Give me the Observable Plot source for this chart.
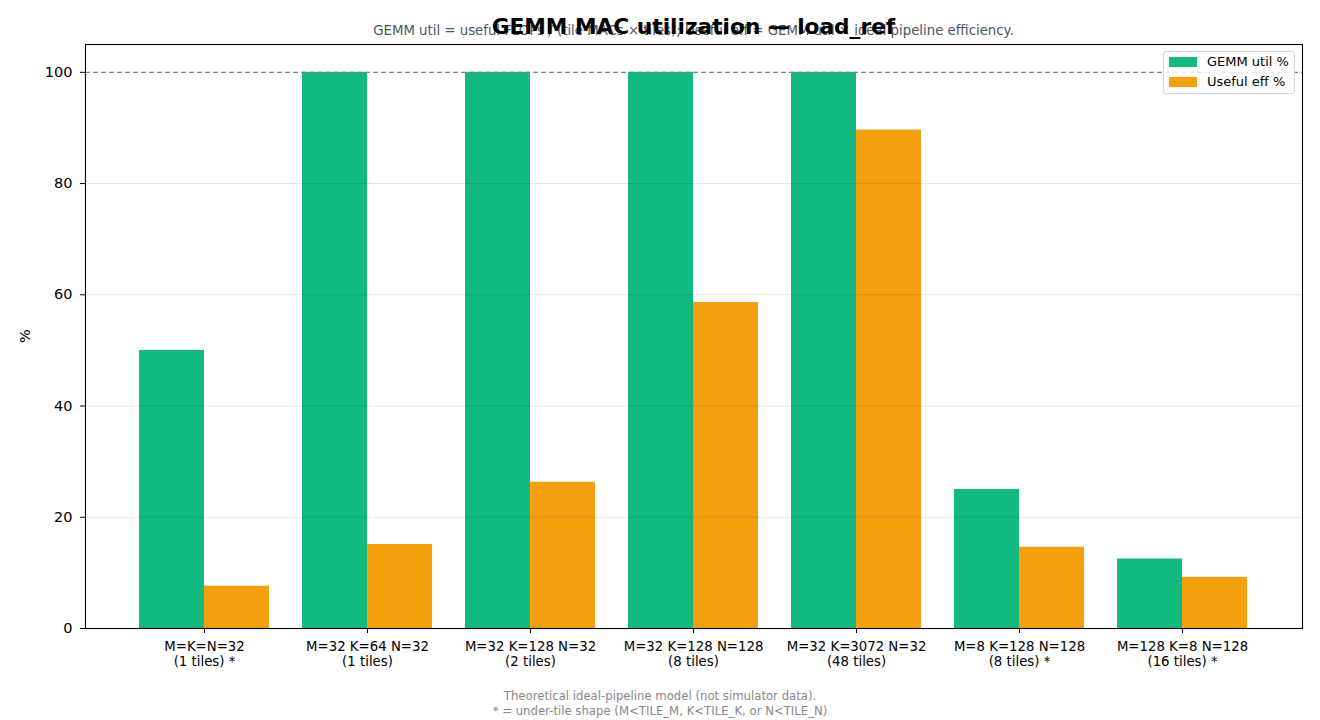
<!DOCTYPE html>
<html>
<head>
<meta charset="utf-8">
<script src="https://cdn.jsdelivr.net/npm/d3@7"></script>
<script src="https://cdn.jsdelivr.net/npm/@observablehq/plot@0.6"></script>
<style>
  html, body { margin: 0; padding: 0; background: #fff; }
  #fig { position: relative; width: 1320px; height: 720px; font-family: "DejaVu Sans", sans-serif; overflow: hidden; }
  #chart { position: absolute; left: 0; top: 0; }
  #subtitle { position: absolute; left: 85px; width: 1217px; top: 23px; text-align: center; font-size: 13.3px; line-height: 16px; color: #4a5568; white-space: nowrap; }
  #title { position: absolute; left: 85px; width: 1217px; top: 13px; line-height: 27px; text-align: center; font-size: 21.7px; font-weight: bold; color: #000; white-space: nowrap; }
  #legend { position: absolute; left: 1163px; top: 51px; width: 130px; height: 41px; border: 1px solid #d6d6d6; border-radius: 3px; background: rgba(255,255,255,0.85); font-size: 13px; color: #000; }
  .item { position: absolute; left: 5px; height: 14px; line-height: 14px; white-space: nowrap; }
  .sw { display: inline-block; width: 28px; height: 10px; vertical-align: -1px; margin-right: 10px; }
  #caption { position: absolute; left: 0; width: 1320px; top: 689px; text-align: center; font-size: 11.7px; line-height: 15px; color: #888; }
</style>
</head>
<body>
<div id="fig">
  <div id="chart"></div>
  <div id="subtitle"></div>
  <div id="title"></div>
  <div id="legend"></div>
  <div id="caption"></div>
</div>
<script>
// ---- data ----
const configs = [
  "M=K=N=32\n(1 tiles) *",
  "M=32 K=64 N=32\n(1 tiles)",
  "M=32 K=128 N=32\n(2 tiles)",
  "M=32 K=128 N=128\n(8 tiles)",
  "M=32 K=3072 N=32\n(48 tiles)",
  "M=8 K=128 N=128\n(8 tiles) *",
  "M=128 K=8 N=128\n(16 tiles) *"
];
const gemmUtil = [50, 100, 100, 100, 100, 25, 12.5];
const usefulEff = [7.6, 15.1, 26.3, 58.6, 89.6, 14.6, 9.2];
const seriesNames = ["GEMM util %", "Useful eff %"];
const seriesColors = ["#12b981", "#f39f0e"];
const yTicks = [0, 20, 40, 60, 80, 100];
const gridValues = [20, 40, 60, 80];
const refValue = [100];

const titleText = "GEMM MAC utilization \u2014 load_ref";
const subtitleText = "GEMM util = useful FLOPs / (tile MACs \u00d7 tiles); Useful eff = GEMM util \u00d7 ideal pipeline efficiency.";
const captionLines = [
  "Theoretical ideal-pipeline model (not simulator data).",
  "* = under-tile shape (M<TILE_M, K<TILE_K, or N<TILE_N)"
];

const gemmRows = configs.map((c, i) => ({config: c, series: seriesNames[0], value: gemmUtil[i]}));
const usefulRows = configs.map((c, i) => ({config: c, series: seriesNames[1], value: usefulEff[i]}));

const base = {
  width: 1320,
  height: 680,
  marginLeft: 85,
  marginRight: 18,
  marginTop: 44,
  marginBottom: 52,
  style: {fontFamily: "DejaVu Sans, sans-serif", color: "#000", background: "#fff"},
  x: {domain: configs, paddingInner: 0.2, paddingOuter: 0.333, axis: null},
  y: {domain: [0, 105], axis: null},
  color: {domain: seriesNames, range: seriesColors}
};

// first pass: read the band width from Plot's own x scale
const probe = Plot.plot({...base, marks: [Plot.barY(gemmRows, {x: "config", y: "value"})]});
const half = probe.scale("x").bandwidth / 2;

const chart = Plot.plot({
  ...base,
  marks: [
    Plot.barY(gemmRows, {x: "config", y: "value", fill: "series", insetLeft: 0, insetRight: half}),
    Plot.barY(usefulRows, {x: "config", y: "value", fill: "series", insetLeft: half, insetRight: 0}),
    Plot.ruleY(gridValues, {stroke: "#000", strokeOpacity: 0.1, strokeWidth: 1}),
    Plot.ruleY(refValue, {stroke: "#808080", strokeWidth: 1.3, strokeDasharray: "5,3"}),
    Plot.axisY({ticks: yTicks, tickSize: 5, tickPadding: 8, fontSize: 14.5, label: null, anchor: "left"}),
    Plot.axisX({tickSize: 5, tickPadding: 7, fontSize: 13.3, lineHeight: 1.13, label: null, anchor: "bottom"}),
    Plot.frame({stroke: "#000", strokeWidth: 1.1})
  ]
});
document.getElementById("chart").appendChild(chart);

// y-axis label
d3.select(chart).append("text")
  .attr("transform", "translate(26,336) rotate(-90)")
  .attr("text-anchor", "middle")
  .attr("dominant-baseline", "middle")
  .attr("font-size", 14.5)
  .attr("fill", "#000")
  .text("%");

document.getElementById("title").textContent = titleText;
document.getElementById("subtitle").textContent = subtitleText;
document.getElementById("caption").innerHTML = captionLines.map(s => s.replace(/&/g,"&amp;").replace(/</g,"&lt;")).join("<br>");

const legend = document.getElementById("legend");
seriesNames.forEach((name, i) => {
  const d = document.createElement("div");
  d.className = "item";
  d.style.top = (3 + i * 20) + "px";
  const sw = document.createElement("span");
  sw.className = "sw";
  sw.style.background = seriesColors[i];
  d.appendChild(sw);
  d.appendChild(document.createTextNode(name));
  legend.appendChild(d);
});
</script>
</body>
</html>
